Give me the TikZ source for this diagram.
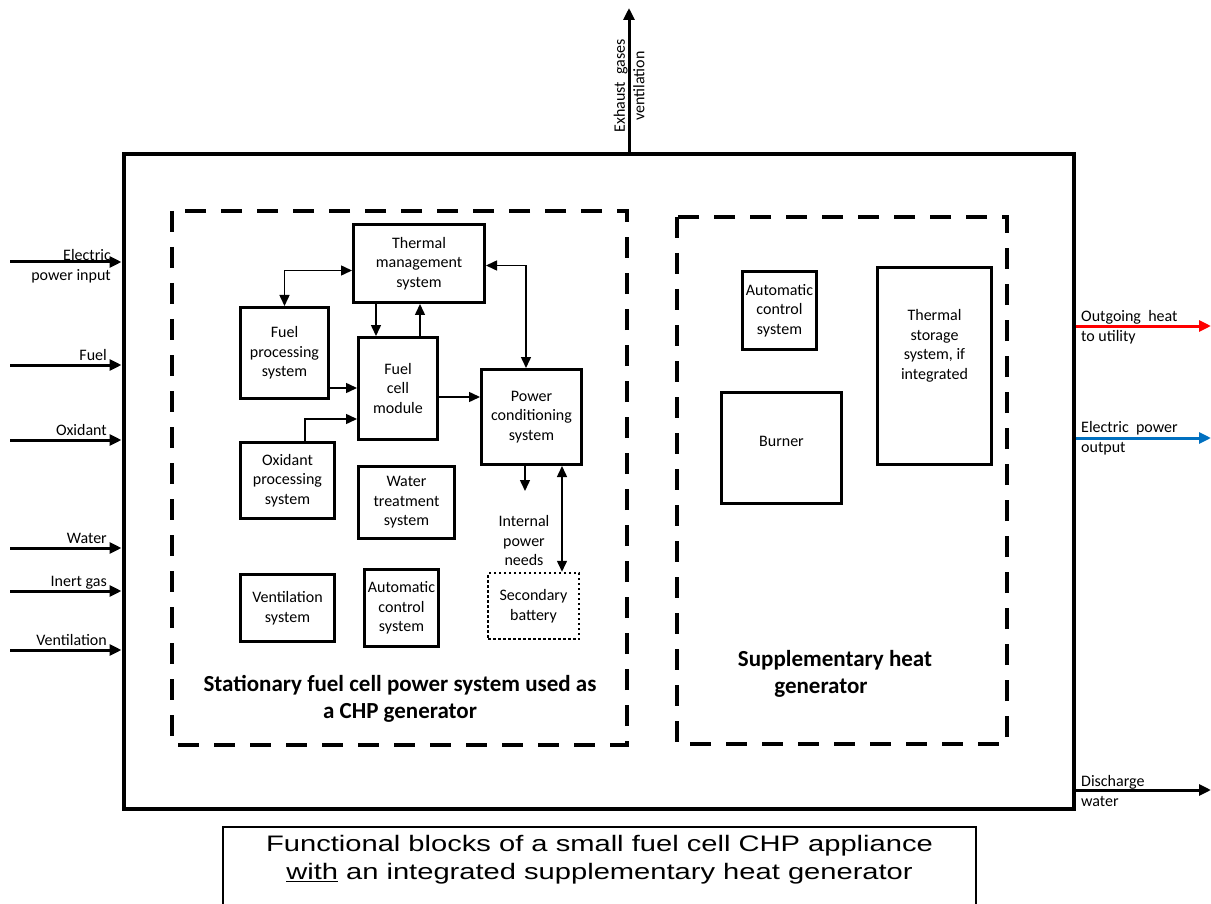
\documentclass[tikz,border=0pt]{standalone}
\usepackage{fontspec}
\setmainfont{Carlito}
\newfontfamily\capfont[FakeStretch=1.3]{Liberation Sans}
\usetikzlibrary{arrows.meta}
\definecolor{heatred}{RGB}{255,0,0}
\definecolor{powblue}{RGB}{0,112,192}
\begin{document}
\begin{tikzpicture}[x=1pt,y=-1pt,
        every node/.style={font=\fontsize{16}{19.5}\selectfont, inner sep=1pt},
        blk/.style={draw, line width=3pt, align=center},
        grp/.style={line width=4pt, dash pattern=on 21pt off 15pt},
        arr/.style={line width=1.5pt, -{Triangle[length=11pt,width=10pt]}},
        darr/.style={line width=1.5pt, {Triangle[length=11pt,width=10pt]}-{Triangle[length=11pt,width=10pt]}},
        io/.style={line width=3pt, -{Triangle[length=12pt,width=11pt]}},
        hdr/.style={font=\bfseries\fontsize{23}{27}\selectfont, align=center}]
            \useasboundingbox (0,0) rectangle (1211,904);
            \node[draw, line width=4pt, minimum width=950, minimum height=654, inner sep=0] (app) at (598.5,481.5) {};
            \draw[grp] (172,211) rectangle (627,745);
            \draw[grp] (677,217) rectangle (1007,744);
            \node[blk, minimum width=131, minimum height=78] (tms) at (419,263.5) {Thermal\\management\\system};
            \node[blk, minimum width=88, minimum height=91] (fps) at (284.5,353) {Fuel\\processing\\system};
            \node[blk, minimum width=79, minimum height=102] (fcm) at (398,388.5) {Fuel\\cell\\module};
            \node[blk, minimum width=100, minimum height=95] (pcs) at (531.5,417) {Power\\conditioning\\system};
            \node[blk, minimum width=94, minimum height=76] (ops) at (287.5,480.5) {Oxidant\\processing\\system};
            \node[blk, minimum width=96, minimum height=72] (wts) at (406.5,502.5) {Water\\treatment\\system};
            \node[blk, minimum width=94, minimum height=67] (vts) at (287.5,608) {Ventilation\\system};
            \node[blk, minimum width=74, minimum height=77] (acsa) at (401.5,608) {Automatic\\control\\system};
            \node[blk, line width=2.5pt, dash pattern=on 2.5pt off 2.5pt, minimum width=91, minimum height=66] (bat) at (533.5,606) {Secondary\\battery};
            \node[align=center] (ipn) at (524,541) {Internal\\power\\needs};
            \coordinate (ipnin) at (525,491);
            \node[hdr] (hdra) at (400,699) {Stationary fuel cell power system used as\\a CHP generator};
            \node[blk, minimum width=74, minimum height=78] (acsb) at (779.5,310.5) {Automatic\\control\\system};
            \node[blk, minimum width=114, minimum height=197] (tss) at (934.5,366) {};
            \node[align=center] (tsstxt) at ([yshift=20pt]tss.center) {Thermal\\storage\\system, if\\integrated};
            \node[blk, minimum width=120, minimum height=111] (brn) at (781.5,448) {};
            \node (brntxt) at (781.5,441) {Burner};
            \node[hdr] (hdrb) at (835,674) {Supplementary heat\\generator\hspace*{28pt}};
            \draw[darr] ([yshift=-7pt]tms.west) -| (fps.north);
            \draw[arr] (tms.south -| 376,0) -- (fcm.north -| 376,0);
            \draw[arr] (fcm.north -| 420,0) -- (tms.south -| 420,0);
            \draw[darr] ([yshift=-2pt]tms.east) -| ([xshift=-5.5pt]pcs.north);
            \draw[arr] (fps.east |- 0,388) -- (fcm.west |- 0,388);
            \draw[arr] (ops.north -| 305,0) |- (fcm.west |- 0,419);
            \draw[arr] (fcm.east |- 0,397) -- (pcs.west |- 0,397);
            \draw[arr] (pcs.south -| ipnin) -- (ipnin);
            \draw[darr] (pcs.south -| 562,0) -- (bat.north -| 562,0);
            \coordinate (inelec) at (10,262);
            \draw[io] (inelec) -- (app.west |- inelec);
            \node[anchor=east, align=right] (lelec) at (112,266) {Electric\\power input};
            \foreach \n/\y/\t in {fuel/365/Fuel, oxid/440/Oxidant, water/548/Water, inert/591/Inert gas, vent/650/Ventilation}{
                \coordinate (in\n) at (10,\y);
                \draw[io] (in\n) -- (app.west |- in\n);
                \node[anchor=base east] (l\n) at (108,\y-5) {\t};
            }
            \coordinate (outheat) at (1211,326);
            \coordinate (outpow) at (1211,438);
            \coordinate (outwater) at (1211,790);
            \draw[io, heatred] (app.east |- outheat) -- (outheat);
            \draw[io, powblue] (app.east |- outpow) -- (outpow);
            \draw[io] (app.east |- outwater) -- (outwater);
            \node[anchor=west, align=left] (lheat) at (1080,327) {Outgoing\ \ heat\\to utility};
            \node[anchor=west, align=left] (lpow) at (1080,438) {Electric\ \ power\\output};
            \node[anchor=west, align=left] (lwater) at (1080,791) {Discharge\\water};
            \coordinate (exh) at (629,8);
            \draw[io] (app.north -| exh) -- (exh);
            \node[rotate=90, align=center] (lexh) at (629,86) {Exhaust\ \ gases\\ventilation};
            \node[draw, line width=1.5pt, minimum width=753, minimum height=90, anchor=north] (capbox) at (599.5,826) {};
            \node[font=\capfont\fontsize{22.4}{28}\selectfont, align=center] (cap) at (599.5,860) {Functional blocks of a small fuel cell CHP appliance\\\underline{with} an integrated supplementary heat generator};
        \end{tikzpicture}
\end{document}
